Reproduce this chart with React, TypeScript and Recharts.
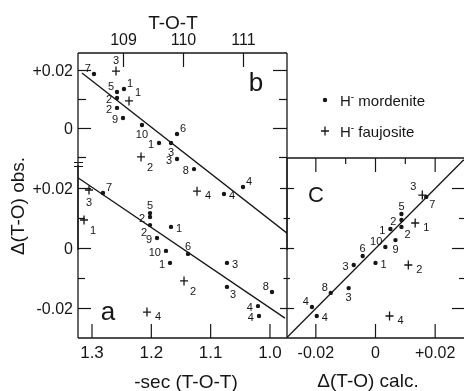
import React from 'react';
import { ScatterChart, Scatter, XAxis, YAxis } from 'recharts';

const INK = '#161616';
const FONT = '"Liberation Sans", Arial, sans-serif';

// panel a: Δ(T-O) obs. against -sec(T-O-T)
const aMordX = [1.2815, 1.2022, 1.2022, 1.2022, 1.1668, 1.1904, 1.1753, 1.1685, 1.1382, 1.0725, 1.0725, 0.9966, 1.0202, 1.0185];
const aMordY = [0.0185, 0.0118, 0.0105, 0.0078, 0.0072, 0.0035, -0.0008, -0.0048, -0.0018, -0.0048, -0.0128, -0.0145, -0.0192, -0.0225];
const aMordN = ['7', '5', '2', '2', '1', '9', '10', '1', '6', '3', '3', '8', '4', '4'];
const aMordSide = ['tr', 't', 'l', 'bl', 'r', 'l', 'l', 'l', 't', 'r', 'br', 'tl', 'l', 'l'];
const aFauX = [1.3051, 1.3135, 1.1449, 1.2073];
const aFauY = [0.0195, 0.0095, -0.0108, -0.0212];
const aFauN = ['3', '1', '2', '4'];
const aFauSide = ['b', 'br', 'br', 'r'];
const aFitX = [1.323, 0.9747];
const aFitY = [0.0235, -0.0232];
const aXTicks = [1.0, 1.1, 1.2, 1.3];

// panel b: Δ(T-O) obs. against T-O-T angle
const bMordX = [108.508, 108.892, 109.008, 108.892, 108.892, 108.992, 109.308, 109.592, 109.792, 109.892, 109.892, 110.175, 110.675, 110.992];
const bMordY = [0.0188, 0.0126, 0.0136, 0.0105, 0.0071, 0.0036, 0.0012, -0.005, -0.005, -0.0019, -0.0105, -0.014, -0.0226, -0.0202];
const bMordN = ['7', '5', '1', '2', '2', '9', '10', '1', '3', '6', '3', '8', '4', '4'];
const bMordSide = ['tl', 'tl', 'tr', 'l', 'l', 'l', 'b', 'l', 'b', 'tr', 'l', 'l', 'r', 'tr'];
const bFauX = [108.875, 109.092, 109.292, 110.225];
const bFauY = [0.0198, 0.0095, -0.0098, -0.0216];
const bFauN = ['3', '1', '2', '4'];
const bFauSide = ['t', 'tr', 'br', 'r'];
const bFitX = [108.308, 111.72];
const bFitY = [0.0191, -0.036];
const bXTicks = [109, 110, 111];

// panel c: Δ(T-O) obs. against Δ(T-O) calc.
const cMordX = [0.017, 0.0087, 0.0087, 0.0087, 0.005, 0.0033, 0.0067, -0.0043, -0.0073, 0.0, -0.009, -0.015, -0.0213, -0.0197];
const cMordY = [0.0172, 0.0115, 0.0095, 0.0072, 0.0065, 0.0005, 0.0028, -0.0025, -0.0055, -0.0048, -0.0132, -0.0148, -0.0195, -0.0225];
const cMordN = ['7', '5', '2', '2', '1', '10', '9', '6', '3', '1', '3', '8', '4', '4'];
const cMordSide = ['br', 't', 'l', 'br', 'l', 'tl', 'b', 't', 'l', 'r', 'b', 'tl', 'tl', 'r'];
const cFauX = [0.0157, 0.0133, 0.011, 0.0047];
const cFauY = [0.0178, 0.0085, -0.0055, -0.0225];
const cFauN = ['3', '1', '2', '4'];
const cFauSide = ['tl', 'r', 'r', 'r'];
const cFitX = [-0.0296, 0.0296];
const cFitY = [-0.0296, 0.0296];

const obsTicks = [-0.02, -0.01, 0, 0.01, 0.02];
const bObsTicks = [-0.01, 0, 0.01, 0.02];

function pts(xs: number[], ys: number[], ns: string[] = [], sides: string[] = []) {
  return xs.map((x, i) => ({ x, y: ys[i], n: ns[i], side: sides[i] }));
}

const OFFSET: Record<string, [number, number, 'start' | 'middle' | 'end']> = {
  r: [5, 1, 'start'],
  l: [-5, 1, 'end'],
  t: [0, -8, 'middle'],
  b: [0, 9, 'middle'],
  tr: [3, -6, 'start'],
  tl: [-3, -6, 'end'],
  br: [3, 7, 'start'],
  bl: [-3, 7, 'end'],
};

const mark = (kind: 'dot' | 'cross') => (p: any) => {
  const { cx, cy, payload } = p;
  const [dx, dy, anchor] = OFFSET[payload.side] ?? OFFSET.r;
  const pad = kind === 'cross' ? 3 : 0;
  return (
    <g>
      {kind === 'dot' ? (
        <circle cx={cx} cy={cy} r={2.2} fill={INK} />
      ) : (
        <path d={`M${cx - 4},${cy}H${cx + 4}M${cx},${cy - 4.5}V${cy + 4.5}`} stroke={INK} strokeWidth={1.3} />
      )}
      <text x={cx + dx + Math.sign(dx) * pad} y={cy + dy + Math.sign(dy) * pad} textAnchor={anchor}
        dominantBaseline="central" fontSize={11} fontFamily={FONT} fill={INK}>{payload.n}</text>
    </g>
  );
};

const noShape = () => <g />;
const signed = (v: number) => (Math.abs(v) < 1e-9 ? '0' : (v > 0 ? '+' : '-') + Math.abs(v).toFixed(2));
const isMajor = (v: number) => Math.abs(Math.round(v * 100) % 2) === 0;

// dir: +1 = tick goes right/down from the axis, -1 = left/up
function yTick(dir: number, major: number, minor: number, back = 0, label = false) {
  return (p: any) => {
    const v = p.payload.value;
    const big = isMajor(v);
    return (
      <g>
        <line x1={p.x - dir * (big ? back : back / 2)} x2={p.x + dir * (big ? major : minor)} y1={p.y} y2={p.y} stroke={INK} strokeWidth={1.2} />
        {label && big && (
          <text x={p.x - dir * 5} y={p.y} textAnchor={dir > 0 ? 'end' : 'start'} dominantBaseline="central"
            fontSize={16} fontFamily={FONT} fill={INK}>{signed(v)}</text>
        )}
      </g>
    );
  };
}

function xTick(dir: number, major: number, minor: number, fmt?: (v: number) => string, fontSize = 16) {
  return (p: any) => {
    const v = p.payload.value;
    const big = fmt ? true : isMajor(v);
    return (
      <g>
        <line x1={p.x} x2={p.x} y1={p.y} y2={p.y + dir * (big ? major : minor)} stroke={INK} strokeWidth={1.2} />
        {fmt && (
          <text x={p.x} y={p.y - dir * 14} textAnchor="middle" dominantBaseline="central"
            fontSize={fontSize} fontFamily={FONT} fill={INK}>{fmt(v)}</text>
        )}
      </g>
    );
  };
}

const axisLine = { stroke: INK, strokeWidth: 1.3 };
const fitLine = { stroke: INK, strokeWidth: 1.3 };
const layer: React.CSSProperties = { position: 'absolute', left: 0, top: 0, transform: 'translateZ(0)' };

function PanelA() {
  return (
    <div style={layer}>
      <ScatterChart width={465} height={391} margin={{ top: 165, left: 77, right: 178, bottom: 52 }}>
        <XAxis type="number" dataKey="x" domain={[0.9713, 1.3236]} reversed allowDataOverflow ticks={aXTicks} interval={0}
          height={1} tickSize={0} tickMargin={0} tickLine={false} axisLine={axisLine}
          tick={xTick(-1, 14, 14, (v) => v.toFixed(1), 17)} />
        <YAxis type="number" dataKey="y" domain={[-0.02983, 0.02783]} allowDataOverflow ticks={obsTicks} interval={0}
          width={1} tickSize={0} tickMargin={0} tickLine={false} axisLine={axisLine} tick={yTick(1, 13, 7, 0, true)} />
        <Scatter data={pts(aFitX, aFitY)} line={fitLine} shape={noShape} isAnimationActive={false} />
        <Scatter data={pts(aMordX, aMordY, aMordN, aMordSide)} shape={mark('dot')} isAnimationActive={false} />
        <Scatter data={pts(aFauX, aFauY, aFauN, aFauSide)} shape={mark('cross')} isAnimationActive={false} />
      </ScatterChart>
    </div>
  );
}

function PanelB() {
  return (
    <div style={layer}>
      <ScatterChart width={465} height={391} margin={{ top: 52, left: 77, right: 177, bottom: 141 }}>
        <XAxis type="number" dataKey="x" orientation="top" domain={[108.2417, 111.725]} allowDataOverflow ticks={bXTicks} interval={0}
          height={1} tickSize={0} tickMargin={0} tickLine={false} axisLine={axisLine}
          tick={xTick(1, 14, 14, (v) => String(v), 16)} />
        <YAxis yAxisId="l" type="number" dataKey="y" domain={[-0.0419, 0.02603]} allowDataOverflow ticks={bObsTicks} interval={0}
          width={1} tickSize={0} tickMargin={0} tickLine={false} axisLine={axisLine} tick={yTick(1, 13, 8, 0, true)} />
        <YAxis yAxisId="r" orientation="right" type="number" dataKey="y" domain={[-0.0419, 0.02603]} allowDataOverflow ticks={bObsTicks} interval={0}
          width={1} tickSize={0} tickMargin={0} tickLine={false} axisLine={axisLine} tick={yTick(-1, 14, 8)} />
        <Scatter yAxisId="l" data={pts(bFitX, bFitY)} line={fitLine} shape={noShape} isAnimationActive={false} />
        <Scatter yAxisId="l" data={pts(bMordX, bMordY, bMordN, bMordSide)} shape={mark('dot')} isAnimationActive={false} />
        <Scatter yAxisId="l" data={pts(bFauX, bFauY, bFauN, bFauSide)} shape={mark('cross')} isAnimationActive={false} />
      </ScatterChart>
    </div>
  );
}

function PanelC() {
  return (
    <div style={layer}>
      <ScatterChart width={465} height={391} margin={{ top: 157, left: 286, right: 0, bottom: 52 }}>
        <XAxis xAxisId="t" orientation="top" type="number" dataKey="x" domain={[-0.02967, 0.02967]} allowDataOverflow ticks={obsTicks} interval={0}
          height={1} tickSize={0} tickMargin={0} tickLine={false} axisLine={axisLine} tick={xTick(1, 14, 6)} />
        <XAxis xAxisId="b" type="number" dataKey="x" domain={[-0.02967, 0.02967]} allowDataOverflow ticks={[-0.02, 0, 0.02]} interval={0}
          height={1} tickSize={0} tickMargin={0} tickLine={false} axisLine={axisLine} tick={xTick(-1, 14, 14, signed, 16)} />
        <YAxis yAxisId="l" type="number" dataKey="y" domain={[-0.02983, 0.03017]} allowDataOverflow ticks={obsTicks} interval={0}
          width={1} tickSize={0} tickMargin={0} tickLine={false} axisLine={axisLine} tick={yTick(1, 7, 3, 7)} />
        <YAxis yAxisId="r" orientation="right" type="number" dataKey="y" domain={[-0.02983, 0.03017]} allowDataOverflow ticks={obsTicks} interval={0}
          width={1} tickSize={0} tickMargin={0} tickLine={false} axisLine={false} tick={yTick(-1, 12, 5)} />
        <Scatter xAxisId="b" yAxisId="l" data={pts(cFitX, cFitY)} line={fitLine} shape={noShape} isAnimationActive={false} />
        <Scatter xAxisId="b" yAxisId="l" data={pts(cMordX, cMordY, cMordN, cMordSide)} shape={mark('dot')} isAnimationActive={false} />
        <Scatter xAxisId="b" yAxisId="l" data={pts(cFauX, cFauY, cFauN, cFauSide)} shape={mark('cross')} isAnimationActive={false} />
      </ScatterChart>
    </div>
  );
}

function Labels() {
  const t = { fontFamily: FONT, fill: INK };
  return (
    <svg width={465} height={391} style={{ ...layer, pointerEvents: 'none' }}>
      <text x={173} y={22} textAnchor="middle" dominantBaseline="central" fontSize={19} {...t}>T-O-T</text>
      <text x={186} y={381} textAnchor="middle" dominantBaseline="central" fontSize={19} {...t}>-sec (T-O-T)</text>
      <text x={368} y={380} textAnchor="middle" dominantBaseline="central" fontSize={19} {...t}>Δ(T-O) calc.</text>
      <text x={17} y={206} textAnchor="middle" dominantBaseline="central" fontSize={19} transform="rotate(-90 17 206)" {...t}>Δ(T-O) obs.</text>
      <text x={108} y={311} textAnchor="middle" dominantBaseline="central" fontSize={26} {...t}>a</text>
      <text x={256} y={82} textAnchor="middle" dominantBaseline="central" fontSize={26} {...t}>b</text>
      <text x={316} y={194} textAnchor="middle" dominantBaseline="central" fontSize={22} {...t}>C</text>
      <circle cx={325} cy={100} r={2.2} fill={INK} />
      <text x={340} y={100} dominantBaseline="central" fontSize={15} {...t}>H<tspan fontSize={10} dy={-4}>-</tspan><tspan dy={4}> mordenite</tspan></text>
      <path d="M321,131H329M325,126.5V135.5" stroke={INK} strokeWidth={1.3} />
      <text x={340} y={131} dominantBaseline="central" fontSize={15} {...t}>H<tspan fontSize={10} dy={-4}>-</tspan><tspan dy={4}> faujosite</tspan></text>
      <path d="M74,162.5H83M74,166.5H83" stroke={INK} strokeWidth={1.2} />
    </svg>
  );
}

export default function App() {
  return (
    <div style={{ position: 'absolute', left: 0, top: 0, width: 465, height: 391, background: '#fff', overflow: 'hidden' }}>
      <PanelA />
      <PanelB />
      <PanelC />
      <Labels />
    </div>
  );
}
